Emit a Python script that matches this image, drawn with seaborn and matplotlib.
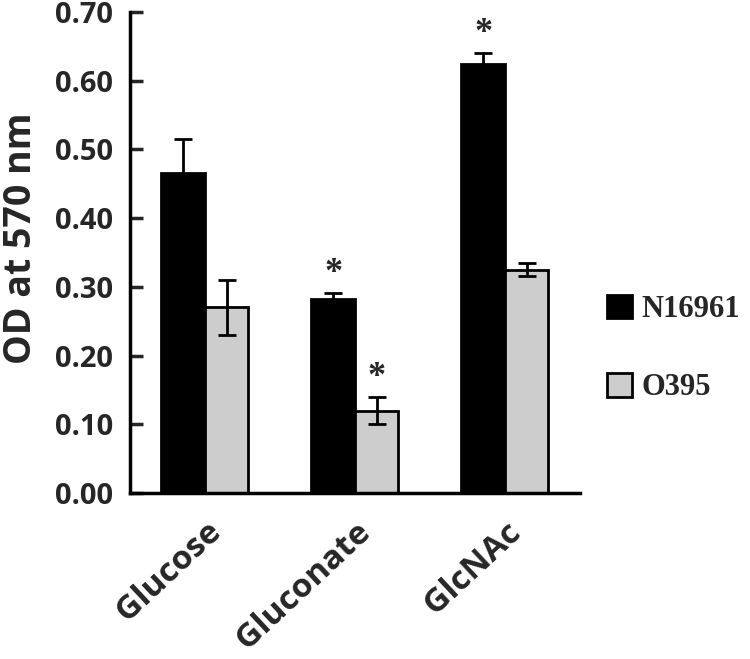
import seaborn as sns
import matplotlib.pyplot as plt
import pandas as pd
import numpy as np

# data
sugars = ['Glucose', 'Gluconate', 'GlcNAc']
strains = ['N16961', 'O395']
od_n16961 = [0.465, 0.283, 0.624]
od_o395 = [0.270, 0.120, 0.325]
err_n16961 = [0.050, 0.008, 0.016]
err_o395 = [0.040, 0.020, 0.009]
sig_n16961 = [False, True, True]
sig_o395 = [False, True, False]

df = pd.DataFrame({
    'sugar': sugars * 2,
    'strain': [strains[0]] * 3 + [strains[1]] * 3,
    'od': od_n16961 + od_o395,
    'err': err_n16961 + err_o395,
    'sig': sig_n16961 + sig_o395,
})

sns.set_style('white')
plt.rcParams['font.family'] = ['Open Sans', 'DejaVu Sans']

fig = plt.figure(figsize=(7.5, 6.59), dpi=100)
ax = fig.add_axes([0.1733, 0.2519, 0.6, 0.7299])

sns.barplot(data=df, x='sugar', y='od', hue='strain', order=sugars, hue_order=strains,
            palette=['black', '#cdcdcd'], width=0.58, errorbar=None, saturation=1,
            edgecolor='black', linewidth=2, ax=ax)

# error bars and asterisks on top of the bars
for cont, strain in zip(ax.containers, strains):
    sub = df[df['strain'] == strain].set_index('sugar').loc[sugars]
    xs = [b.get_x() + b.get_width() / 2 for b in cont]
    ax.errorbar(xs, sub['od'], yerr=sub['err'], fmt='none', ecolor='black',
                elinewidth=2, capsize=6.5, capthick=2, zorder=5)
    for x, y, e, s in zip(xs, sub['od'], sub['err'], sub['sig']):
        if s:
            ax.annotate('*', (x, y + e), xytext=(0, 2), textcoords='offset points',
                        ha='center', va='bottom', fontsize=26, fontweight='bold',
                        family='Liberation Serif')

ax.set_ylim(0, 0.70)
ax.set_xlim(-0.5, 2.5)
ax.set_yticks(np.arange(0, 0.71, 0.1))
ax.set_yticklabels([f'{v:.2f}' for v in np.arange(0, 0.71, 0.1)], fontsize=21, fontweight='bold')
ax.set_xticks(range(3))
ax.set_xticklabels(sugars, rotation=43, ha='right', rotation_mode='anchor',
                   fontsize=24, fontweight='bold')
ax.set_xticks([0.5, 1.5, 2.5], minor=True)
ax.tick_params(axis='x', which='major', length=0, pad=16)
ax.tick_params(axis='x', which='minor', direction='in', length=10, width=2.5)
ax.tick_params(axis='y', direction='in', length=9, width=2.5, pad=12, left=True)
ax.set_xlabel('')
ax.set_ylabel('OD at 570 nm', fontsize=27, fontweight='bold')
ax.yaxis.set_label_coords(-0.2, 0.53)

for side in ['top', 'right']:
    ax.spines[side].set_visible(False)
for side in ['left', 'bottom']:
    ax.spines[side].set_linewidth(2.5)
    ax.spines[side].set_color('black')

leg = ax.legend(loc='center left', bbox_to_anchor=(1.0, 0.30), frameon=False,
                prop={'family': 'Liberation Serif', 'weight': 'bold', 'size': 22},
                handlelength=0.8, handleheight=0.8, labelspacing=1.6, handletextpad=0.3)
for h in leg.legend_handles:
    h.set_edgecolor('black')
    h.set_linewidth(2)

fig.savefig('out.png', dpi=100)
